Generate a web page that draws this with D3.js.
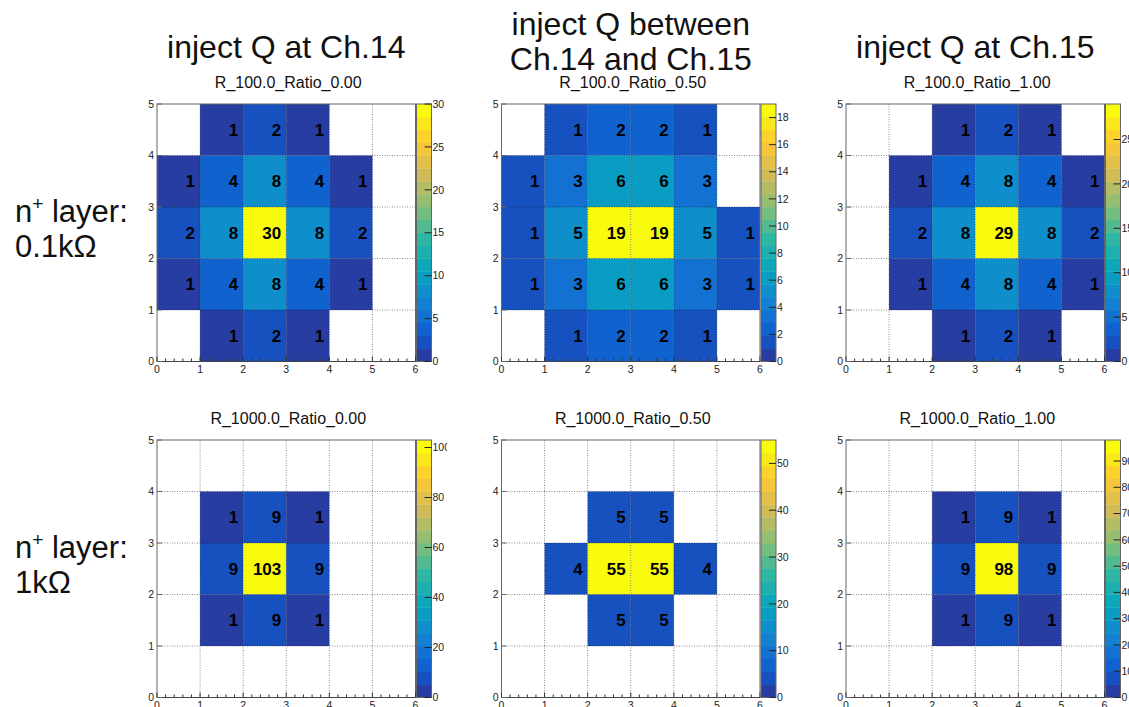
<!DOCTYPE html>
<html>
<head>
<meta charset="utf-8">
<script src="https://cdn.jsdelivr.net/npm/d3@7"></script>
<style>
body{margin:0;background:#fff;}
svg{display:block;font-family:"Liberation Sans",Arial,Helvetica,sans-serif;}
</style>
</head>
<body>
<div id="chart"></div>
<script>
// headers over the columns and labels left of the rows
var colHeaders=[["inject Q at Ch.14"],["inject Q between","Ch.14 and Ch.15"],["inject Q at Ch.15"]];
var rowLabels=[["0.1kΩ"],["1kΩ"]];
var titles=["R_100.0_Ratio_0.00","R_100.0_Ratio_0.50","R_100.0_Ratio_1.00",
            "R_1000.0_Ratio_0.00","R_1000.0_Ratio_0.50","R_1000.0_Ratio_1.00"];

// bin contents: rows from y=4..5 (top) down to y=0..1, columns x=0..5, 0 = empty
var r100_ratio000=[
    [0,1,2,1,0,0],
    [1,4,8,4,1,0],
    [2,8,30,8,2,0],
    [1,4,8,4,1,0],
    [0,1,2,1,0,0]
];
var r100_ratio050=[
    [0,1,2,2,1,0],
    [1,3,6,6,3,0],
    [1,5,19,19,5,1],
    [1,3,6,6,3,1],
    [0,1,2,2,1,0]
];
var r100_ratio100=[
    [0,0,1,2,1,0],
    [0,1,4,8,4,1],
    [0,2,8,29,8,2],
    [0,1,4,8,4,1],
    [0,0,1,2,1,0]
];
var r1000_ratio000=[
    [0,0,0,0,0,0],
    [0,1,9,1,0,0],
    [0,9,103,9,0,0],
    [0,1,9,1,0,0],
    [0,0,0,0,0,0]
];
var r1000_ratio050=[
    [0,0,0,0,0,0],
    [0,0,5,5,0,0],
    [0,4,55,55,4,0],
    [0,0,5,5,0,0],
    [0,0,0,0,0,0]
];
var r1000_ratio100=[
    [0,0,0,0,0,0],
    [0,0,1,9,1,0],
    [0,0,9,98,9,0],
    [0,0,1,9,1,0],
    [0,0,0,0,0,0]
];
var panelsData=[r100_ratio000,r100_ratio050,r100_ratio100,r1000_ratio000,r1000_ratio050,r1000_ratio100];
// colour bar label step of each panel
var zTickStep=[5,2,5,20,10,10];

// ROOT kBird palette
var birdStops=[0.0000,0.1250,0.2500,0.3750,0.5000,0.6250,0.7500,0.8750,1.0000];
var birdR=[0.2082,0.0592,0.0780,0.0232,0.1802,0.5301,0.8186,0.9956,0.9764];
var birdG=[0.1664,0.3599,0.5041,0.6419,0.7178,0.7492,0.7328,0.7862,0.9832];
var birdB=[0.5293,0.8111,0.8240,0.7515,0.6393,0.4662,0.3499,0.1968,0.0539];
var birdScale=d3.scaleLinear().domain(birdStops)
    .range(birdStops.map(function(s,i){return d3.rgb(birdR[i]*255,birdG[i]*255,birdB[i]*255);}));
var nColors=255,nContours=20;
function levelColor(l){
    var idx=Math.floor((l+0.99)*nColors/nContours);
    return birdScale(idx/(nColors-1));
}

var W=1129,H=707;
var svg=d3.select("#chart").append("svg").attr("width",W).attr("height",H);

// layout of the frames
var frameLeft=[157,501.5,846],frameTop=[104,440];
var frameW=258.5,frameH=257.5,cbW=15;
var padRight=[447,791.5,1129];

colHeaders.forEach(function(lines,c){
    var cx=frameLeft[c]+frameW/2;
    var t=svg.append("text").attr("text-anchor","middle").style("font-size","32px").attr("fill","#111");
    if(lines.length==1){
        t.attr("x",cx).attr("y",58).text(lines[0]);
    }else{
        t.attr("x",cx).attr("y",35).text(lines[0]);
        svg.append("text").attr("text-anchor","middle").style("font-size","32px").attr("fill","#111")
            .attr("x",cx).attr("y",70).text(lines[1]);
    }
});

rowLabels.forEach(function(lbl,r){
    var base=frameTop[r]+118;
    var t=svg.append("text").attr("x",15).attr("y",base).style("font-size","31px").attr("fill","#111");
    t.append("tspan").text("n");
    t.append("tspan").attr("dy",-12).style("font-size","19px").text("+");
    t.append("tspan").attr("dy",12).text(" layer:");
    svg.append("text").attr("x",15).attr("y",base+35).style("font-size","31px").attr("fill","#111").text(lbl[0]);
});

var defs=svg.append("defs");

panelsData.forEach(function(grid,p){
    var c=p%3,r=Math.floor(p/3);
    var x0=frameLeft[c],y0=frameTop[r];
    var clipId="pad"+p;
    defs.append("clipPath").attr("id",clipId).append("rect")
        .attr("x",x0-20).attr("y",y0-45).attr("width",padRight[c]-(x0-20)).attr("height",frameH+70);
    var g=svg.append("g").attr("clip-path","url(#"+clipId+")");

    var x=d3.scaleLinear().domain([0,6]).range([x0,x0+frameW]);
    var y=d3.scaleLinear().domain([0,5]).range([y0+frameH,y0]);

    var cells=[];
    grid.forEach(function(row,i){
        row.forEach(function(v,j){
            if(v>0) cells.push({x:j,y:4-i,v:v});
        });
    });
    var zmax=d3.max(cells,function(d){return d.v;});
    var z=d3.scaleLinear().domain([0,zmax]).range([0,nContours]);
    function cellColor(v){
        return levelColor(Math.min(nContours-1,Math.floor(z(v))));
    }

    // title
    g.append("text").attr("x",x0+frameW/2+2).attr("y",y0-16).attr("text-anchor","middle")
        .style("font-size","16px").attr("fill","#111").text(titles[p]);

    g.append("rect").attr("x",x0).attr("y",y0).attr("width",frameW).attr("height",frameH).attr("fill","#fff");

    g.selectAll("rect.cell").data(cells).enter().append("rect").attr("class","cell")
        .attr("x",function(d){return x(d.x);})
        .attr("y",function(d){return y(d.y+1);})
        .attr("width",function(d){return x(d.x+1)-x(d.x);})
        .attr("height",function(d){return y(d.y)-y(d.y+1);})
        .attr("fill",function(d){return cellColor(d.v);});

    // grid
    var gridG=g.append("g").attr("stroke","#000").attr("stroke-opacity",0.45)
        .attr("stroke-width",1).attr("stroke-dasharray","1,1.5");
    gridG.selectAll("line.gx").data(x.ticks(6).slice(1,-1)).enter().append("line")
        .attr("x1",function(d){return x(d);}).attr("x2",function(d){return x(d);})
        .attr("y1",y0).attr("y2",y0+frameH);
    gridG.selectAll("line.gy").data(y.ticks(5).slice(1,-1)).enter().append("line")
        .attr("y1",function(d){return y(d);}).attr("y2",function(d){return y(d);})
        .attr("x1",x0).attr("x2",x0+frameW);

    // bin texts
    g.selectAll("text.val").data(cells).enter().append("text").attr("class","val")
        .attr("x",function(d){return x(d.x+1)-5;})
        .attr("y",function(d){return (y(d.y)+y(d.y+1))/2;})
        .attr("dy","0.36em").attr("text-anchor","end")
        .style("font-size","17px").style("font-weight","bold").attr("fill","#000")
        .text(function(d){return d3.format(".0f")(d.v);});

    // frame
    g.append("rect").attr("x",x0).attr("y",y0).attr("width",frameW).attr("height",frameH)
        .attr("fill","none").attr("stroke","#666").attr("stroke-width",1);

    // x axis ticks (inside) and labels
    var minor=d3.range(0,30).map(function(k){return k/5;}).filter(function(v){return v%1!==0;});
    g.selectAll("line.xminor").data(minor).enter().append("line")
        .attr("x1",function(d){return x(d);}).attr("x2",function(d){return x(d);})
        .attr("y1",y0+frameH).attr("y2",y0+frameH-3).attr("stroke","#333");
    g.selectAll("line.xmajor").data(x.ticks(6)).enter().append("line")
        .attr("x1",function(d){return x(d);}).attr("x2",function(d){return x(d);})
        .attr("y1",y0+frameH).attr("y2",y0+frameH-5).attr("stroke","#333");
    g.append("line").attr("x1",x0).attr("x2",x0+frameW).attr("y1",y0+frameH).attr("y2",y0+frameH)
        .attr("stroke","#444");
    g.selectAll("text.xl").data(x.ticks(6)).enter().append("text")
        .attr("x",function(d){return x(d);}).attr("y",y0+frameH+11)
        .attr("text-anchor","middle").style("font-size","10.5px").attr("fill","#222")
        .text(function(d){return d;});

    // y axis
    g.selectAll("line.ymajor").data(y.ticks(5)).enter().append("line")
        .attr("x1",x0).attr("x2",x0+5)
        .attr("y1",function(d){return y(d);}).attr("y2",function(d){return y(d);}).attr("stroke","#666");
    g.selectAll("text.yl").data(y.ticks(5)).enter().append("text")
        .attr("x",x0-3).attr("y",function(d){return y(d);}).attr("dy","0.35em")
        .attr("text-anchor","end").style("font-size","10.5px").attr("fill","#222")
        .text(function(d){return d;});

    // colour bar
    var cbX=x0+frameW+1;
    var zy=d3.scaleLinear().domain([0,zmax]).range([y0+frameH,y0]);
    var bands=d3.range(nContours);
    g.selectAll("rect.band").data(bands).enter().append("rect")
        .attr("x",cbX).attr("width",cbW)
        .attr("y",function(l){return zy(z.invert(l+1));})
        .attr("height",function(l){return zy(z.invert(l))-zy(z.invert(l+1))+0.4;})
        .attr("fill",function(l){return levelColor(l);});
    g.append("rect").attr("x",cbX).attr("y",y0).attr("width",cbW).attr("height",frameH)
        .attr("fill","none").attr("stroke","#666");
    var zt=d3.range(0,zmax+1e-9,zTickStep[p]);
    g.selectAll("line.zt").data(zt).enter().append("line")
        .attr("x1",cbX+cbW-7).attr("x2",cbX+cbW)
        .attr("y1",function(d){return zy(d);}).attr("y2",function(d){return zy(d);})
        .attr("stroke","#222");
    g.selectAll("text.zl").data(zt).enter().append("text")
        .attr("x",cbX+cbW+1).attr("y",function(d){return zy(d);}).attr("dy","0.35em")
        .style("font-size","10.5px").attr("fill","#222")
        .text(function(d){return d;});
});
</script>
</body>
</html>
